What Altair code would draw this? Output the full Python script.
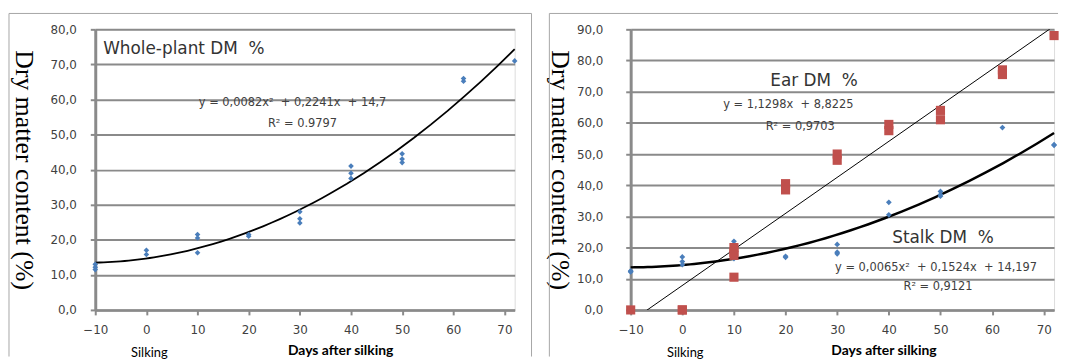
import altair as alt
import pandas as pd

# ---------------- data ----------------
# Left panel: whole-plant DM %
wp_days = [-10, -10, -10, 0, 0, 10, 10, 10, 20, 20, 30, 30, 30,
           40, 40, 40, 50, 50, 50, 62, 62, 72]
wp_dm = [13.0, 12.2, 11.5, 17.0, 15.8, 21.5, 20.5, 16.3, 21.5, 21.0,
         28.0, 26.0, 24.8, 41.0, 39.0, 37.5, 44.5, 43.0, 42.0, 66.0, 65.2, 71.0]

# Right panel: ear DM % (red squares)
ear_days = [-10, 0, 0, 10, 10, 10, 10, 20, 20, 30, 30, 40, 40, 50, 50, 62, 62, 72]
ear_dm = [0.0, 0.0, 0.0, 20.0, 18.5, 17.5, 10.5, 40.5, 38.5, 50.0, 48.0,
          59.5, 57.5, 64.0, 61.0, 77.0, 75.5, 88.0]

# Right panel: stalk DM % (blue points)
stalk_days = [-10, -10, -10, 0, 0, 0, 10, 10, 10, 20, 20, 30, 30, 30, 40, 40,
              50, 50, 50, 62, 72, 72]
stalk_dm = [12.5, 12.4, 12.2, 17.0, 15.5, 14.5, 22.0, 21.0, 16.5, 17.2, 16.9,
            21.0, 18.5, 18.0, 34.5, 30.5, 38.0, 37.0, 36.5, 58.5, 53.0, 52.8]

x_ticks = [-10, 0, 10, 20, 30, 40, 50, 60, 70]
left_y_ticks = [0, 10, 20, 30, 40, 50, 60, 70, 80]
right_y_ticks = [0, 10, 20, 30, 40, 50, 60, 70, 80, 90]

wp_eq = "y = 0,0082x²\u00a0 + 0,2241x\u00a0 + 14,7"
wp_r2 = "R² = 0.9797"
ear_eq = "y = 1,1298x\u00a0 + 8,8225"
ear_r2 = "R² = 0,9703"
stalk_eq = "y = 0,0065x²\u00a0 + 0,1524x\u00a0 + 14,197"
stalk_r2 = "R² = 0,9121"

# ---------------- styling ----------------
GRID = "#8a8a8a"
LABEL = "#404040"
FRAME = "#a6a6a6"
BLUE = "#4a7ebb"
RED = "#c0504d"
SANS = "DejaVu Sans"

H = 283
WL = 423
WR = 427

wp = pd.DataFrame({"day": wp_days, "dm": wp_dm})
ear = pd.DataFrame({"day": ear_days, "dm": ear_dm})
stalk = pd.DataFrame({"day": stalk_days, "dm": stalk_dm})
one = pd.DataFrame({"k": [0]})


def xaxis(title_x):
    return alt.Axis(values=x_ticks, grid=False, domainColor=GRID, domainWidth=2.5,
                    tickColor=GRID, tickWidth=2, tickSize=5, labelPadding=10,
                    labelFlush=False,
                    labelFont=SANS, labelFontSize=12, labelColor=LABEL,
                    title="Days after silking", titleFont="Lato", titleFontSize=14,
                    titleFontWeight="bold", titleColor="black",
                    titleAlign="center", titleBaseline="alphabetic",
                    titleX=title_x, titleY=45)


def yaxis(vals, pad):
    return alt.Axis(values=vals, grid=True, gridColor=GRID, gridWidth=2,
                    domainColor=GRID, domainWidth=3, tickColor=GRID, tickWidth=2,
                    tickSize=5, labelPadding=pad, labelFont=SANS, labelFontSize=12,
                    labelColor=LABEL,
                    labelExpr="replace(format(datum.value, '.1f'), '.', ',')",
                    title="Dry matter content (%)", titleFont="Liberation Serif",
                    titleFontSize=26, titleFontWeight="normal", titleColor="black",
                    titleAngle=90, titleAlign="center", titleBaseline="middle",
                    titleX=-72, titleY=H / 2)


def frame_rules(x_left, x_right, right_side):
    segs = [
        alt.Chart(one).mark_rule(color=FRAME, strokeWidth=1).encode(
            x=alt.value(x_left), x2=alt.value(x_right), y=alt.value(-16)),
        alt.Chart(one).mark_rule(color=FRAME, strokeWidth=1).encode(
            x=alt.value(x_left), y=alt.value(-16), y2=alt.value(330)),
    ]
    if right_side:
        segs.append(alt.Chart(one).mark_rule(color=FRAME, strokeWidth=1).encode(
            x=alt.value(x_right), y=alt.value(-16), y2=alt.value(330)))
    return segs


def note(text, x, y, size=11.5, align="center", color="#404040", font=SANS):
    return alt.Chart(one).mark_text(text=text, fontSize=size, font=font, color=color,
                                    align=align, baseline="middle").encode(
        x=alt.value(x), y=alt.value(y))


def silking():
    return alt.Chart(one).mark_text(text="Silking", font="Lato", fontSize=13, color="black",
                                    align="center", baseline="alphabetic", dx=3).encode(
        x=alt.datum(0), y=alt.value(330))


# ---------------- left panel ----------------
xl = alt.X("day:Q", scale=alt.Scale(domain=[-10, 72], nice=False, zero=False), axis=xaxis(247))
yl = alt.Y("dm:Q", scale=alt.Scale(domain=[0, 80], nice=False), axis=yaxis(left_y_ticks, 14))

wp_pts = alt.Chart(wp).mark_point(shape="diamond", filled=True, size=32, color=BLUE,
                                  opacity=1).encode(x=xl, y=yl)
wp_fit = alt.Chart(wp).transform_regression(
    "day", "dm", method="poly", order=2, extent=[-10, 72]
).mark_line(color="black", strokeWidth=1.8).encode(x=xl, y=yl)

left = alt.layer(
    *frame_rules(-87, 440, True),
    wp_fit, wp_pts,
    note("Whole-plant DM\u00a0 %", 8, 20, size=17, align="left", color="#333333"),
    note(wp_eq, 199, 74),
    note(wp_r2, 209, 96),
    silking(),
).properties(width=WL, height=H)

# ---------------- right panel ----------------
xr = alt.X("day:Q", scale=alt.Scale(domain=[-10, 72], nice=False, zero=False), axis=xaxis(255))
yr = alt.Y("dm:Q", scale=alt.Scale(domain=[0, 90], nice=False), axis=yaxis(right_y_ticks, 23))

ear_fit = alt.Chart(ear).transform_regression(
    "day", "dm", method="linear", extent=[-10, 72]
).mark_line(color="black", strokeWidth=1, clip=True).encode(x=xr, y=yr)
stalk_fit = alt.Chart(stalk).transform_regression(
    "day", "dm", method="poly", order=2, extent=[-10, 72]
).mark_line(color="black", strokeWidth=2.5).encode(x=xr, y=yr)
ear_pts = alt.Chart(ear).mark_point(shape="square", filled=True, size=85, color=RED,
                                    opacity=1).encode(x=xr, y=yr)
stalk_pts = alt.Chart(stalk).mark_point(shape="diamond", filled=True, size=34, color=BLUE,
                                        opacity=1).encode(x=xr, y=yr)

right = alt.layer(
    *frame_rules(-82, 431, False),
    ear_fit, stalk_fit, stalk_pts, ear_pts,
    note("Ear DM\u00a0 %", 185, 52, size=17, color="#333333"),
    note(ear_eq, 159, 76),
    note(ear_r2, 171, 99),
    note("Stalk DM\u00a0 %", 315, 210, size=17, color="#333333"),
    note(stalk_eq, 308, 241),
    note(stalk_r2, 310, 260),
    silking(),
).properties(width=WR, height=H)

chart = alt.hconcat(left, right, spacing=117, bounds="flush").properties(
    padding={"left": 0, "top": 3, "right": 0, "bottom": 0}
).configure_view(stroke=None).configure(background="white")

chart.save("out.html", embed_options={"renderer": "svg", "actions": False})
